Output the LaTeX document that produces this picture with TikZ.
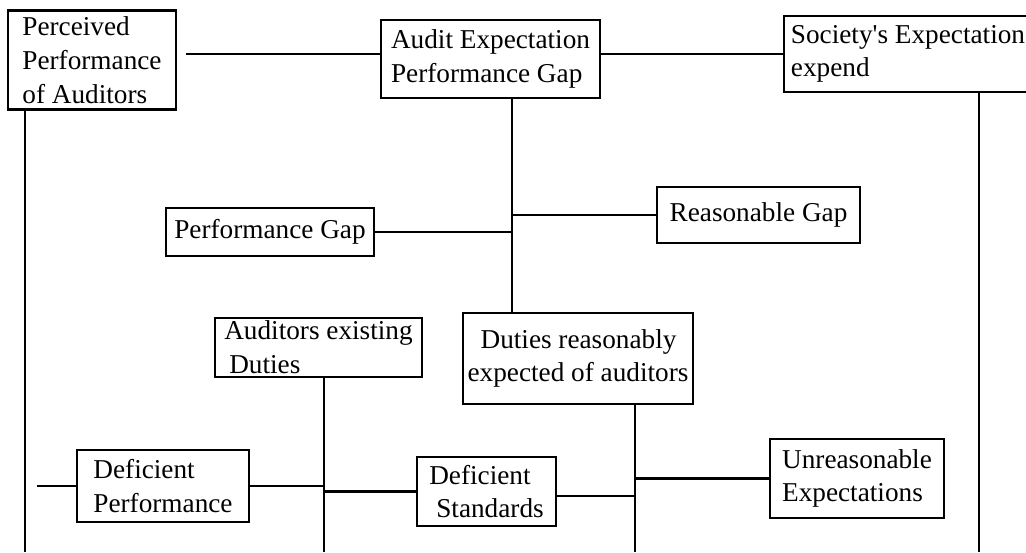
\documentclass[tikz,border=0pt]{standalone}
\usepackage{fontspec}
\setmainfont{Liberation Serif}
\usetikzlibrary{positioning}

\tikzset{blk/.style={draw, line width=1.3pt, align=left, inner sep=1pt,
                     font=\fontsize{15.5}{19.2}\selectfont}}

\begin{document}
\begin{tikzpicture}[x=0.02cm, y=-0.02cm]
                \useasboundingbox (0,0) rectangle (1026,552);

                \node (perc) [blk, minimum width=3.36cm, minimum height=1.98cm] at (92,60) {Perceived\\Performance\\of Auditors};
                \node (audit) [blk, minimum width=4.38cm, minimum height=1.56cm] at (490.5,59) {Audit Expectation\\Performance Gap};
                \node (society) [blk, minimum width=4.96cm, minimum height=1.52cm] at (908,54) {Society\textquotesingle s Expectation\\expend};
                \node (perfgap) [blk, minimum width=4.16cm, minimum height=0.96cm] at (270,232) {Performance Gap};
                \node (reasgap) [blk, minimum width=4.06cm, minimum height=1.12cm] at (758.5,215) {Reasonable Gap};
                \node (existing) [blk, minimum width=4.14cm, minimum height=1.18cm] at (318.5,347.5) {Auditors existing\\\hspace*{0.1cm}Duties};
                \node (reasexp) [blk, minimum width=4.6cm, minimum height=1.82cm] at (578,358.5) {\hspace*{0.26cm}Duties reasonably\\expected of auditors};
                \node (defperf) [blk, minimum width=3.44cm, minimum height=1.44cm] at (163,486) {Deficient\\Performance};
                \node (defstd) [blk, minimum width=2.78cm, minimum height=1.38cm] at (486.5,491.5) {Deficient\\\hspace*{0.14cm}Standards};
                \node (unreas) [blk, minimum width=3.48cm, minimum height=1.58cm] at (857,478.5) {Unreasonable\\Expectations};

                % junction lines
                \coordinate (lft) at (25,0);
                \coordinate (rgt) at (979,0);
                \coordinate (mid) at (512,0);
                \coordinate (midr) at (635,0);
                \coordinate (exist) at (324,0);
                \coordinate (foot) at (0,552);
                \coordinate (stub) at (37,486);

                \path [line width=1.4pt]
                    (perc.east |- society.west) edge [shorten <=0.18cm] (audit.west |- society.west)
                    (audit.east |- society.west) edge (society.west)
                    (perc.south -| lft) edge (lft |- foot)
                    (society.south -| rgt) edge (rgt |- foot)
                    (audit.south -| mid) edge (reasexp.north -| mid)
                    (perfgap.east) edge (perfgap.east -| mid)
                    (reasgap.west) edge (reasgap.west -| mid)
                    (existing.south -| exist) edge (exist |- foot)
                    (reasexp.south -| midr) edge (midr |- foot)
                    (stub) edge (defperf.west)
                    (defperf.east) edge (defperf.east -| exist)
                    (defstd.west) edge (defstd.west -| exist)
                    ([yshift=-0.09cm]defstd.east) edge ([yshift=-0.09cm]defstd.east -| midr)
                    (unreas.west) edge (unreas.west -| midr);
            \end{tikzpicture}
\end{document}
